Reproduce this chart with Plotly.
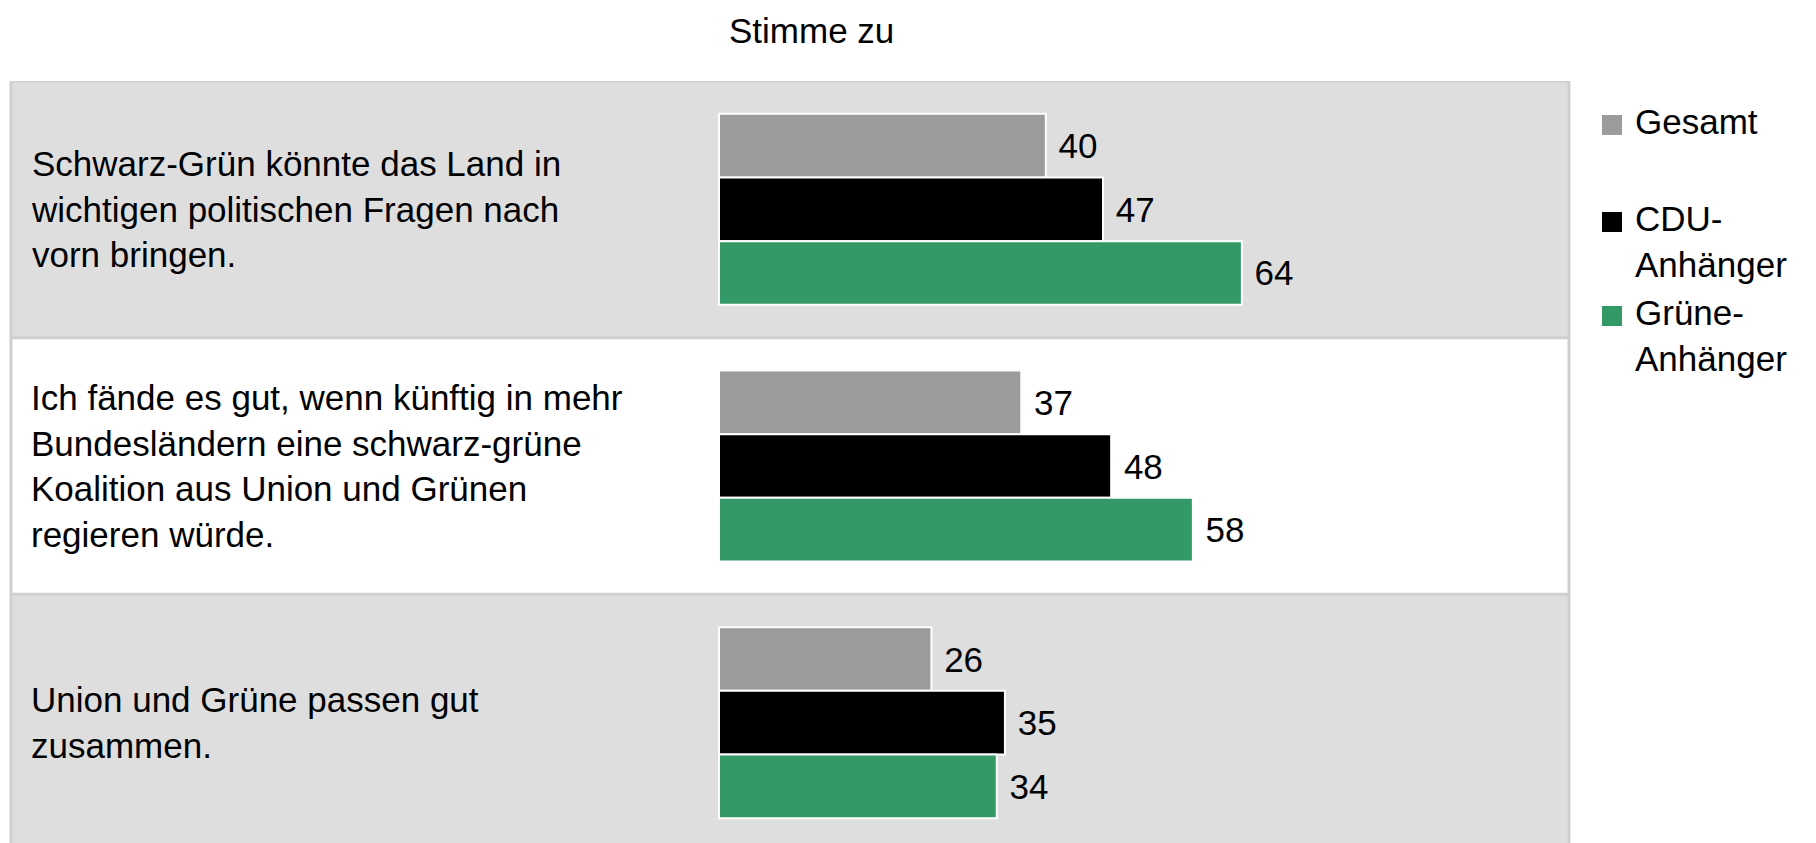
import plotly.graph_objects as go

# Daten (Werte in Prozent, "Stimme zu")
aussagen = [
    "Schwarz-Grün könnte das Land in<br>wichtigen politischen Fragen nach<br>vorn bringen.",
    "Ich fände es gut, wenn künftig in mehr<br>Bundesländern eine schwarz-grüne<br>Koalition aus Union und Grünen<br>regieren würde.",
    "Union und Grüne passen gut<br>zusammen.",
]
gesamt = [40, 37, 26]
cdu = [47, 48, 35]
gruene = [64, 58, 34]

serien = ["Gesamt", "CDU-<br>Anhänger", "Grüne-<br>Anhänger"]
farben = ["#9b9b9b", "#000000", "#339966"]

W, H = 1816, 843
OFF = 8  # Seitenrand des Browsers (body margin)
L, R, T, B = 11 - OFF, 1569 - OFF, 81 - OFF, 0   # Plotbereich in Pixeln
X0 = 719 - OFF   # Pixelposition von 0 %
FONT = "Liberation Sans, Arial, sans-serif"
FS = 35

# Bildschirm-Pixel -> paper
def px(x):
    return (x - OFF - L) / (R - L)

def py(y):
    return (H - (y - OFF)) / (H - T)

fig = go.Figure()
for name, werte, farbe in zip(serien, [gesamt, cdu, gruene], farben):
    fig.add_trace(go.Bar(
        y=aussagen, x=werte, name=name, orientation="h",
        marker=dict(color=farbe, line=dict(color="white", width=2)),
        text=werte, texttemplate=" %{x}", textposition="outside",
        textfont=dict(size=FS, color="black", family=FONT),
        constraintext="none", cliponaxis=False, showlegend=False,
    ))

# Hintergrund der Zeilen
shapes = []
for i in range(len(aussagen)):
    shapes.append(dict(type="rect", xref="paper", yref="y", x0=0, x1=1,
                       y0=i - 0.5, y1=i + 0.5, layer="below", line_width=0,
                       fillcolor="#dedede" if i % 2 == 0 else "white"))
# Rahmenlinien
rand = "#cfcfcf"
for i in range(len(aussagen)):
    shapes.append(dict(type="line", xref="paper", yref="y", x0=0, x1=1,
                       y0=i - 0.5, y1=i - 0.5, line=dict(color=rand, width=3)))
shapes.append(dict(type="line", xref="paper", yref="paper", x0=0, x1=0, y0=0, y1=1,
                   line=dict(color=rand, width=3)))
shapes.append(dict(type="line", xref="paper", yref="paper", x0=1, x1=1, y0=0, y1=1,
                   line=dict(color=rand, width=3)))

# Legende (manuell, damit Abstände passen)
leg_y = [125, 222, 316]
annotations = []
for name, farbe, yc in zip(serien, farben, leg_y):
    shapes.append(dict(type="rect", xref="paper", yref="paper",
                       x0=px(1602), x1=px(1622), y0=py(yc + 10), y1=py(yc - 10),
                       fillcolor=farbe, line_width=0))
    annotations.append(dict(xref="paper", yref="paper", x=px(1633), y=py(yc - 25),
                            xanchor="left", yanchor="top", align="left",
                            text=name, showarrow=False,
                            font=dict(size=FS, color="black", family=FONT)))

# Aussagen links
for i, a in enumerate(aussagen):
    annotations.append(dict(xref="paper", yref="y", x=px(29), y=i,
                            xanchor="left", yanchor="middle", align="left",
                            text=a, showarrow=False,
                            font=dict(size=FS, color="black", family=FONT)))

# Titel
annotations.append(dict(xref="paper", yref="paper", x=px(812), y=py(30),
                        xanchor="center", yanchor="middle", text="Stimme zu",
                        showarrow=False, font=dict(size=FS, color="black", family=FONT)))

skala = 8.17  # Pixel pro Prozentpunkt
fig.update_layout(
    width=W, height=H,
    margin=dict(l=L, r=W - R, t=T, b=B),
    paper_bgcolor="white", plot_bgcolor="white",
    barmode="group", bargap=0.256, bargroupgap=0,
    xaxis=dict(range=[-(X0 - L) / skala, (R - X0) / skala], visible=False, fixedrange=True),
    yaxis=dict(range=[2.5, -0.5], visible=False, fixedrange=True),
    shapes=shapes, annotations=annotations,
    showlegend=False,
    font=dict(family=FONT, size=FS, color="black"),
)

fig.write_html("out.html")
